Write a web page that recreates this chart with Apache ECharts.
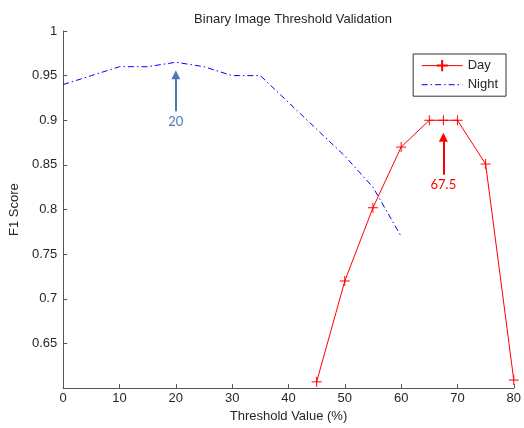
<!DOCTYPE html>
<html>
<head>
<meta charset="utf-8">
<script src="https://cdn.jsdelivr.net/npm/echarts@6/dist/echarts.min.js"></script>
<style>
  html, body { margin: 0; padding: 0; background: #fff; }
  #chart { width: 524px; height: 428px; }
</style>
</head>
<body>
<div id="chart"></div>
<script>
// ---- data ----
const titleText = 'Binary Image Threshold Validation';
const xAxisName = 'Threshold Value (%)';
const yAxisName = 'F1 Score';

const dayX = [45, 50, 55, 60, 65, 67.5, 70, 75, 80];
const dayValues = [0.607, 0.72, 0.802, 0.87, 0.9, 0.9, 0.9, 0.851, 0.609];

const nightX = [0, 5, 10, 15, 20, 25, 30, 35, 40, 45, 50, 55, 60];
const nightValues = [0.94, 0.95, 0.96, 0.96, 0.965, 0.96, 0.95, 0.95, 0.92, 0.89, 0.86, 0.825, 0.77];

const annotX = [20, 67.5];
const annotFrom = [0.91, 0.839];
const annotTo = [0.951, 0.881];
const annotText = ['20', '67.5'];
const annotColor = ['#4a7ab5', '#ff0000'];

// ---- chart ----
const chart = echarts.init(document.getElementById('chart'), null, { renderer: 'canvas' });
const font = 'Liberation Sans, Arial, sans-serif';
const txt = '#262626';

const markData = annotX.map((x, i) => [
  {
    coord: [x, annotFrom[i]],
    lineStyle: { color: annotColor[i], width: 2, type: 'solid' },
    itemStyle: { color: annotColor[i] },
    label: { show: true, position: 'start', formatter: annotText[i], color: annotColor[i],
             fontFamily: 'Lato, Open Sans, sans-serif', fontSize: 13, distance: 4 }
  },
  { coord: [x, annotTo[i]] }
]);

const option = {
  animation: false,
  backgroundColor: '#ffffff',
  title: {
    text: titleText,
    left: 288,
    textAlign: 'center',
    top: 8,
    textStyle: { fontFamily: font, fontSize: 13, fontWeight: 'normal', color: txt }
  },
  legend: {
    orient: 'vertical',
    right: 18,
    top: 54,
    data: ['Day', { name: 'Night', itemStyle: { opacity: 0 } }],
    borderColor: '#333',
    borderWidth: 1,
    padding: [5, 8, 5, 8],
    itemWidth: 41,
    itemHeight: 14,
    itemGap: 6,
    lineStyle: { width: 1 },
    textStyle: { fontFamily: font, fontSize: 13, color: txt }
  },
  grid: { left: 62, right: 7, top: 31, bottom: 39, containLabel: false },
  xAxis: {
    type: 'value',
    min: 0, max: 80, interval: 10,
    name: xAxisName,
    nameLocation: 'middle',
    nameGap: 17,
    nameTextStyle: { fontFamily: font, fontSize: 13, color: txt },
    axisLine: { show: true, onZero: false, lineStyle: { color: '#555', width: 1 } },
    axisTick: { show: true, inside: true, length: 4, lineStyle: { color: '#555' } },
    axisLabel: { fontFamily: font, fontSize: 13, color: txt, margin: 4 },
    splitLine: { show: false }
  },
  yAxis: {
    type: 'value',
    min: 0.6, max: 1, interval: 0.05,
    name: yAxisName,
    nameLocation: 'middle',
    nameGap: 41,
    nameTextStyle: { fontFamily: font, fontSize: 13, color: txt },
    axisLine: { show: true, lineStyle: { color: '#555', width: 1 } },
    axisTick: { show: true, inside: true, length: 4, lineStyle: { color: '#555' } },
    axisLabel: {
      fontFamily: font, fontSize: 13, color: txt, margin: 6,
      formatter: v => Math.abs(v - 0.6) < 1e-9 ? '' : String(parseFloat(v.toFixed(2)))
    },
    splitLine: { show: false }
  },
  series: [
    {
      name: 'Day',
      type: 'line',
      data: dayX.map((x, i) => [x, dayValues[i]]),
      symbol: 'path://M0,5L10,5M5,0L5,10',
      symbolSize: 10,
      showSymbol: true,
      itemStyle: { color: '#ff0000', borderColor: '#ff0000', borderWidth: 1 },
      lineStyle: { color: '#ff0000', width: 1 },
      z: 3
    },
    {
      name: 'Night',
      type: 'line',
      data: nightX.map((x, i) => [x, nightValues[i]]),
      symbol: 'circle',
      showSymbol: false,
      itemStyle: { color: '#0000ff' },
      lineStyle: { color: '#0000ff', width: 1, type: [6, 3, 1.5, 3] },
      z: 2
    },
    {
      name: 'annotations',
      type: 'line',
      data: [],
      markLine: {
        silent: true,
        animation: false,
        symbol: ['none', 'triangle'],
        symbolSize: 9,
        data: markData
      }
    }
  ]
};
chart.setOption(option);
</script>
</body>
</html>
